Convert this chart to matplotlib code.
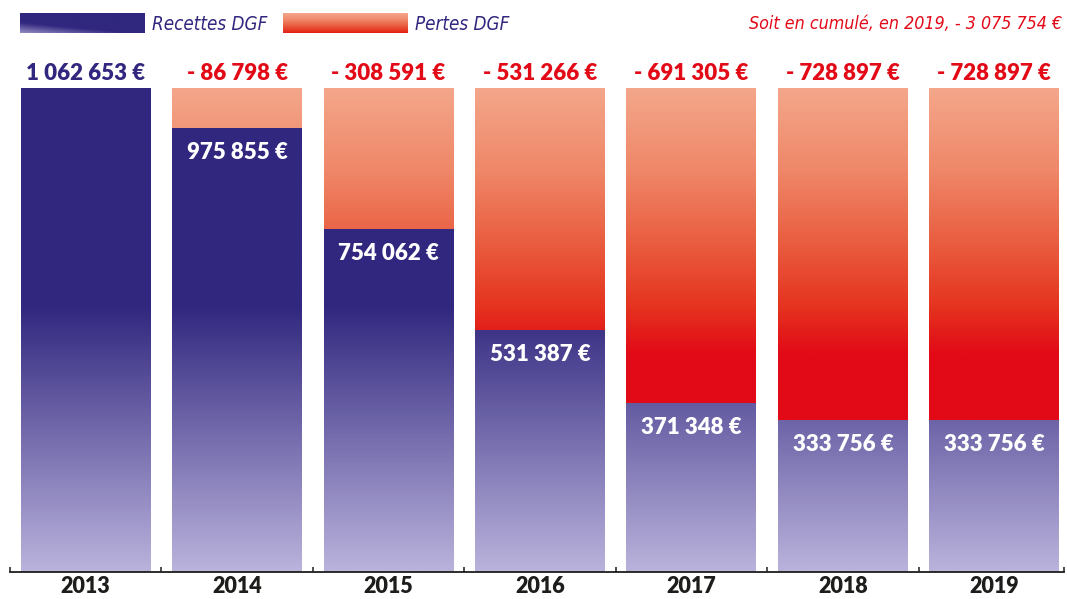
import numpy as np
import matplotlib
matplotlib.use("Agg")
import matplotlib.pyplot as plt
from matplotlib.colors import LinearSegmentedColormap
from matplotlib import font_manager as fm

years = ["2013", "2014", "2015", "2016", "2017", "2018", "2019"]
recettes = [1062653, 975855, 754062, 531387, 371348, 333756, 333756]
pertes = [0, 86798, 308591, 531266, 691305, 728897, 728897]
legend_labels = ["Recettes DGF", "Pertes DGF"]
note = "Soit en cumulé, en 2019, - 3 075 754 €"

NAVY = "#31277f"
RED = "#e20a17"
DARK = "#1d1d1b"

blue_cmap = LinearSegmentedColormap.from_list(
    "blue", [(0.0, "#bab3dc"), (0.55, NAVY), (1.0, NAVY)])
red_cmap = LinearSegmentedColormap.from_list(
    "red", [(0.0, RED), (0.45, RED), (0.55, "#e5341f"), (0.67, "#e95a3d"),
            (0.83, "#ef8768"), (1.0, "#f4a68a")])

# pick a condensed italic font if one is installed
def find_condensed():
    best = None
    for f in fm.fontManager.ttflist:
        nm = f.name.lower()
        cond = ("narrow" in nm or "condensed" in nm or
                str(f.stretch) in ("condensed", "semi-condensed", "extra-condensed", "ultra-condensed")
                or (isinstance(f.stretch, int) and f.stretch < 500))
        if not cond:
            continue
        score = 0
        if f.style in ("italic", "oblique"):
            score += 2
        if f.weight in (400, "normal", "regular"):
            score += 1
        if best is None or score > best[0]:
            best = (score, f)
    return best[1] if best else None

cf = find_condensed()
if cf is not None:
    leg_fp = fm.FontProperties(fname=cf.fname, size=13.5)
    note_fp = fm.FontProperties(fname=cf.fname, size=12.8)
else:
    leg_fp = fm.FontProperties(family="Roboto", style="italic", size=12)
    note_fp = fm.FontProperties(family="Roboto", style="italic", size=11.5)

def fmt(v):
    return f"{v:,}".replace(",", " ") + " €"

fig = plt.figure(figsize=(10.67, 5.99), dpi=100)
ax = fig.add_axes([10 / 1067, 27 / 599, 1054 / 1067, 484 / 599])

total = max(r + p for r, p in zip(recettes, pertes))
x = np.arange(len(years))
width = 0.858

def grad_bar(xc, y0, y1, cmap):
    if y1 <= y0:
        return
    n = 256
    ys = np.linspace(y1, y0, n) / total
    img = cmap(ys)[:, None, :]
    ax.imshow(img, extent=(xc - width / 2, xc + width / 2, y0, y1),
              aspect="auto", interpolation="bilinear", zorder=2)

lab_kw = dict(ha="center", va="center", fontsize=16, fontweight="heavy",
              family="Lato", zorder=5, textcoords="offset points")
for i, (r, p) in enumerate(zip(recettes, pertes)):
    grad_bar(x[i], 0, r, blue_cmap)
    grad_bar(x[i], r, r + p, red_cmap)
    top = r + p
    if p == 0:
        ax.annotate(fmt(r), (x[i], top), xytext=(0, 10.5), color=NAVY, **lab_kw)
    else:
        ax.annotate("- " + fmt(p), (x[i], top), xytext=(0, 10.5), color=RED, **lab_kw)
        ax.annotate(fmt(r), (x[i], r), xytext=(0, -18), color="white", **lab_kw)

ax.set_xlim(-0.5, 6.46)
ax.set_ylim(0, total)
for s in ["top", "right", "left"]:
    ax.spines[s].set_visible(False)
ax.spines["bottom"].set_color(DARK)
ax.spines["bottom"].set_linewidth(1.3)
ax.spines["bottom"].set_zorder(6)
ax.set_yticks([])
ax.set_xticks(x)
ax.set_xticklabels(years, fontsize=15.5, fontweight="heavy", family="Lato", color=DARK)
ax.tick_params(axis="x", which="major", length=0, pad=3)
ax.set_xticks(list(x[:-1] + 0.5) + [-0.5, 6.46], minor=True)
ax.tick_params(axis="x", which="minor", direction="in", length=3.8, width=1.1, color=DARK)

# legend
lax1 = fig.add_axes([20 / 1067, 1 - 33 / 599, 125 / 1067, 20 / 599])
gx, gy = np.meshgrid(np.linspace(0, 1, 200), np.linspace(0, 1, 40))
t = np.clip(0.55 * gx + 0.9 * gy, 0, 1)
lax1.imshow(blue_cmap(0.15 + 0.85 * t), aspect="auto", origin="lower",
            extent=(0, 1, 0, 1), interpolation="bilinear")
lax1.axis("off")
lax2 = fig.add_axes([283 / 1067, 1 - 33 / 599, 125 / 1067, 20 / 599])
lax2.imshow(red_cmap(0.5 + 0.5 * gy), aspect="auto", origin="lower",
            extent=(0, 1, 0, 1), interpolation="bilinear")
lax2.axis("off")

fig.text(152 / 1067, 1 - 24 / 599, legend_labels[0], ha="left", va="center",
         color=NAVY, fontproperties=leg_fp)
fig.text(415 / 1067, 1 - 24 / 599, legend_labels[1], ha="left", va="center",
         color=NAVY, fontproperties=leg_fp)
fig.text(1062 / 1067, 1 - 24 / 599, note, ha="right", va="center",
         color=RED, fontproperties=note_fp)

fig.savefig("out.png", dpi=100)
